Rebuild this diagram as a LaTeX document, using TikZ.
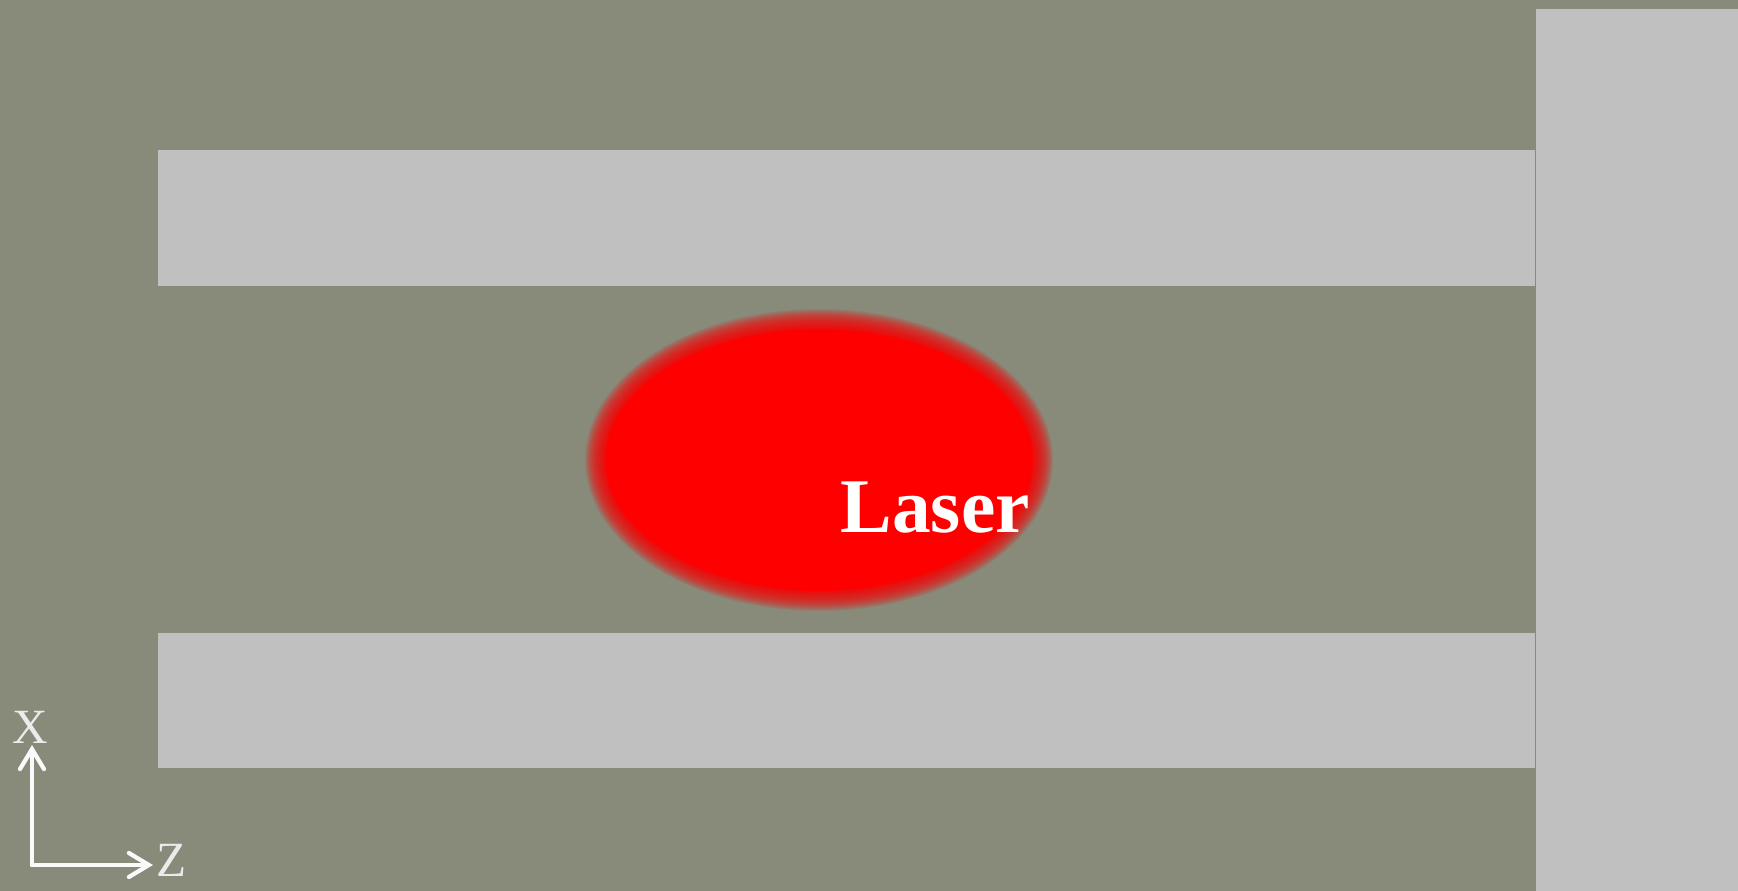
\documentclass[tikz,border=0pt]{standalone}
\usepackage{fontspec}
\setmainfont{Liberation Serif}
\usepackage{xcolor}
\usepackage{tikz}
\usetikzlibrary{arrows.meta}
\definecolor{bgolive}{RGB}{136,138,122}
\definecolor{bargray}{RGB}{192,192,192}
\definecolor{axiswhite}{RGB}{250,250,250}
\tikzset{
  barfill/.style={fill=bargray,draw=none},
  axisarrow/.style={draw=axiswhite,line width=1.2pt,line cap=round,
    -{Straight Barb[length=0.2cm,width=0.24cm,line cap=round]}},
  axislabel/.style={text=axiswhite!94!black,font=\fontsize{14}{14}\selectfont,inner sep=0pt},
  laserlabel/.style={text=white,font=\fontsize{22}{22}\selectfont\bfseries,inner sep=0pt,anchor=base west},
}

\begin{document}
\begin{tikzpicture}[x=0.01cm,y=-0.01cm]

  % background
  \fill[bgolive] (0,0) rectangle (1738,891);
  \useasboundingbox (0,0) rectangle (1738,891);
  % waveguide bars
  \fill[barfill] (158,150) rectangle (1535,286);
  \fill[barfill] (158,633) rectangle (1535,768);
  \fill[barfill] (1536,9) rectangle (1738,891);
  % laser spot, soft edge
  \foreach \d in {20,19,...,0}
    \fill[red,opacity=0.09] (819,460) ellipse ({214+\d} and {131+\d});
  \fill[red] (819,460) ellipse (214 and 131);
  \node[laserlabel] (laser) at (840,533) {Laser};
  % axes
  \coordinate (orig) at (32,865);
  \coordinate (xtip) at (32,745);
  \coordinate (ztip) at (153,865);
  \draw[axisarrow] (orig) -- (xtip);
  \draw[axisarrow] (orig) -- (ztip);
  \node[axislabel] (xlab) at (30,727) {X};
  \node[axislabel] (zlab) at (172,860) {Z};
\end{tikzpicture}
\end{document}
